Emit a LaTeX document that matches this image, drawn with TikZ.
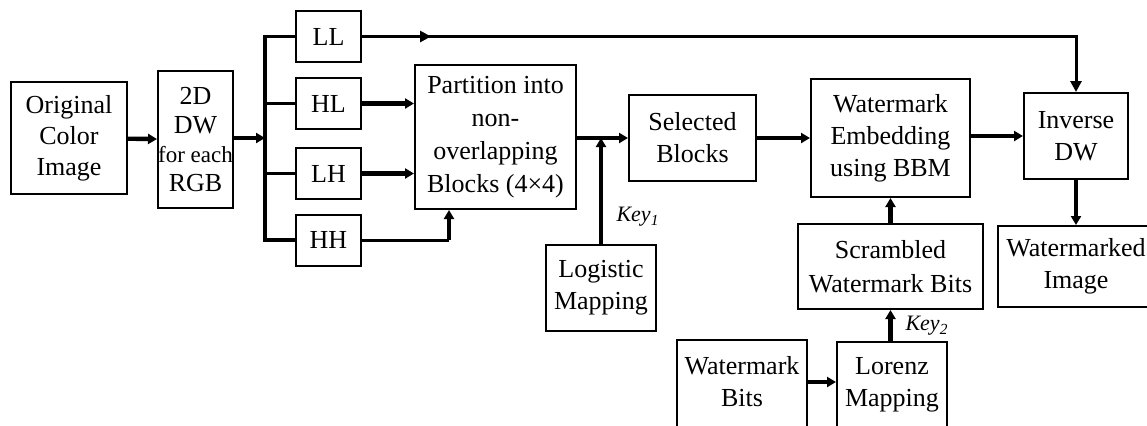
\documentclass[tikz,border=0pt]{standalone}
\usepackage{fontspec}
\setmainfont{Liberation Serif}
\usetikzlibrary{arrows.meta}
\begin{document}
\begin{tikzpicture}[x=0.5pt,y=-0.5pt,
  box/.style={draw,line width=1pt,inner sep=0pt,align=center,font=\fontsize{13}{16}\selectfont},
  thk/.style={line width=2.2pt,-{Triangle[length=4.5pt,width=5pt]}},
  thn/.style={line width=1.5pt},
  thnarr/.style={line width=1.5pt,-{Triangle[length=5.5pt,width=5.5pt]}},
  keylbl/.style={inner sep=0pt,font=\fontsize{11}{13}\selectfont\itshape}]
\useasboundingbox (0,0) rectangle (1147,425);
\clip (0,0) rectangle (1147,425);

% nodes
\node[box,minimum width=58pt,minimum height=56pt,font=\fontsize{13}{15.5}\selectfont] (orig) at (69,138) {Original\\Color\\Image};
\node[box,minimum width=37.5pt,minimum height=68.5pt,font=\fontsize{13}{14.5}\selectfont] (dw) at (195.5,139.5) {2D\\DW\\{\fontsize{11.5}{14.5}\selectfont for each}\\RGB};
\node[box,minimum width=32.5pt,minimum height=25.5pt] (LL) at (328.5,36.5) {LL};
\node[box,minimum width=32.5pt,minimum height=25.5pt] (HL) at (328.5,103.5) {HL};
\node[box,minimum width=32.5pt,minimum height=25.5pt] (LH) at (328.5,173.5) {LH};
\node[box,minimum width=32.5pt,minimum height=25.5pt] (HH) at (328.5,240) {HH};
\node[box,minimum width=80.5pt,minimum height=72pt,font=\fontsize{13}{16.5}\selectfont] (part) at (495.5,137) {Partition into\\non-\\overlapping\\Blocks (4×4)};
\node[box,minimum width=63.5pt,minimum height=43pt] (sel) at (692.5,138) {Selected\\Blocks};
\node[box,minimum width=55pt,minimum height=43pt] (log) at (601,288) {Logistic\\Mapping};
\node[box,minimum width=79.5pt,minimum height=59pt] (emb) at (890.5,138) {Watermark\\Embedding\\using BBM};
\node[box,minimum width=52pt,minimum height=43pt] (inv) at (1076,136) {Inverse\\DW};
\node[box,minimum width=78pt,minimum height=40.5pt] (wmi) at (1076,266.5) {Watermarked\\Image};
\node[box,minimum width=92.5pt,minimum height=42.5pt,font=\fontsize{13}{17}\selectfont] (scr) at (890.5,266.5) {Scrambled\\Watermark Bits};
\node[box,minimum width=65pt,minimum height=44pt] (wb) at (742,384) {Watermark\\Bits\\[-13pt]};
\node[box,minimum width=55pt,minimum height=43pt] (lor) at (892,385) {Lorenz\\Mapping\\[-13pt]};

\node[keylbl] (k1) at (638,217) {Key\textsubscript{1}};
\node[keylbl] (k2) at (927,326) {Key\textsubscript{2}};

% coordinates
\coordinate (busmid) at (265,138);
\coordinate (llmid) at (431,36.5);
\coordinate (hhturn) at (449,240);
\coordinate (selin) at (601,138);

% connectors
\draw[thk] (orig) -- (dw);
\draw[thk] (dw.east |- busmid) -- (busmid);
\draw[line width=1.8pt] (LL.west) -- (LL.west -| busmid) -- (HH.west -| busmid) -- (HH.west);
\draw[thn] (HL.west -| busmid) -- (HL.west);
\draw[thn] (LH.west -| busmid) -- (LH.west);
\draw[thk] (HL.east) -- (HL.east -| part.west);
\draw[thk] (LH.east) -- (LH.east -| part.west);
\draw[thn] (HH.east) -- (hhturn);
\draw[thk] (hhturn) -- (hhturn |- part.south);
\draw[thnarr] (LL.east) -- (LL.east -| inv.north) -- (inv.north);
\draw[thnarr] (LL.east) -- (llmid);
\draw[thk] (part.east |- sel) -- (sel.west);
\draw[thk] (log.north) -- (selin);
\draw[thk] (sel) -- (emb);
\draw[thk] (emb.east |- inv) -- (inv.west);
\draw[thk] (inv.south) -- (wmi.north);
\draw[thk] (scr.north) -- (emb.south);
\draw[thk] (lor.north -| scr) -- (scr.south);
\draw[thk] (wb.east |- 0,382) -- (lor.west |- 0,382);
\end{tikzpicture}
\end{document}
